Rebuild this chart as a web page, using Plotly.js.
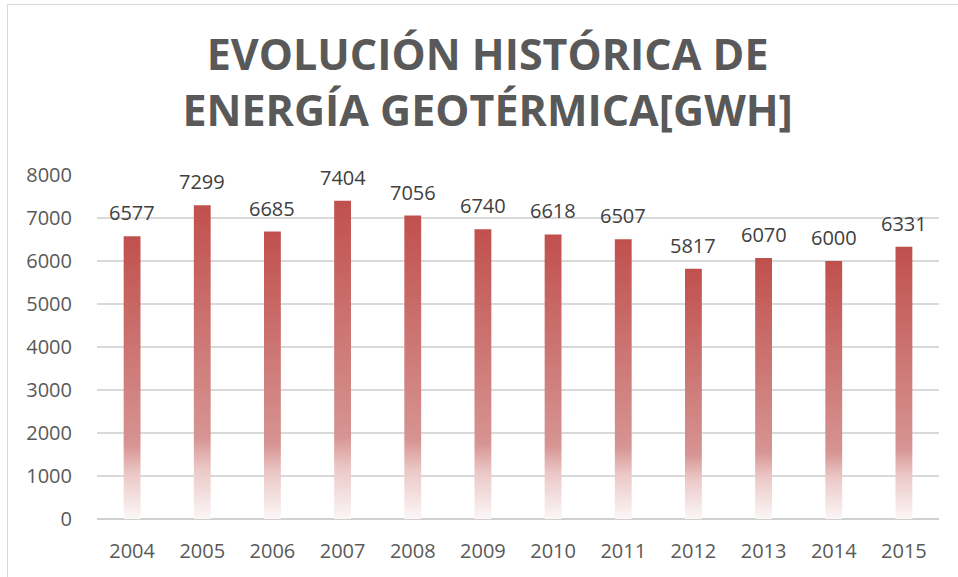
<!DOCTYPE html>
<html>
<head>
<meta charset="utf-8">
<script src="https://cdn.plot.ly/plotly-3.0.1.min.js"></script>
<style>
  html, body { margin: 0; padding: 0; background: #fff; }
  #wrap { position: relative; width: 958px; height: 577px; }
  #chart { width: 958px; height: 577px; }
  #frame { position: absolute; left: 7px; top: 4px; width: 960px; height: 580px;
           border-left: 1.5px solid #D9D9D9; border-top: 1.5px solid #D9D9D9; pointer-events: none; }
</style>
</head>
<body>
<div id="wrap">
  <div id="chart"></div>
  <div id="frame"></div>
</div>
<script>
const years = ["2004","2005","2006","2007","2008","2009","2010","2011","2012","2013","2014","2015"];
const energyGWh = [6577, 7299, 6685, 7404, 7056, 6740, 6618, 6507, 5817, 6070, 6000, 6331];
const yTicks = [0, 1000, 2000, 3000, 4000, 5000, 6000, 7000, 8000];
const titleText = "EVOLUCIÓN HISTÓRICA DE<br>ENERGÍA GEOTÉRMICA[GWH]";

const FONT = "Open Sans, Lato, sans-serif";

const trace = {
  type: "bar",
  x: years,
  y: energyGWh,
  marker: { color: "#C0504D", line: { width: 0 } },
  hoverinfo: "x+y"
};

// on a category axis, annotation x is the category index
const annotations = years.map((yr, i) => ({
  x: i, y: energyGWh[i], xref: "x", yref: "y",
  text: String(energyGWh[i]), showarrow: false,
  yanchor: "bottom", yshift: 8,
  font: { family: FONT, size: 20, color: "#404040" }
}));

const layout = {
  width: 958, height: 577,
  margin: { l: 97, r: 19, t: 175, b: 58 },
  paper_bgcolor: "#ffffff",
  plot_bgcolor: "#ffffff",
  bargap: 0.76,
  showlegend: false,
  title: {
    text: titleText,
    font: { family: FONT, size: 43, color: "#595959", weight: "bold" },
    xref: "container", x: 0.509, xanchor: "center",
    yref: "container", y: 0.878, yanchor: "top"
  },
  xaxis: {
    type: "category",
    range: [-0.5, years.length - 0.5],
    showgrid: false, zeroline: false, showline: false,
    ticks: "outside", ticklen: 14, tickcolor: "rgba(0,0,0,0)",
    tickfont: { family: FONT, size: 20, color: "#595959" }
  },
  yaxis: {
    range: [0, 8000],
    tickvals: yTicks,
    ticktext: yTicks.map(String),
    showgrid: true, gridcolor: "#D9D9D9", gridwidth: 1.3,
    zeroline: true, zerolinecolor: "#D0D0D0", zerolinewidth: 1.6,
    showline: false,
    ticks: "outside", ticklen: 20, tickcolor: "rgba(0,0,0,0)",
    tickfont: { family: FONT, size: 20, color: "#595959" }
  },
  annotations: annotations
};

Plotly.newPlot("chart", [trace], layout, { displayModeBar: false, staticPlot: true }).then(gd => {
  const svg = gd.querySelector(".main-svg");
  const ns = "http://www.w3.org/2000/svg";
  let defs = svg.querySelector("defs");
  if (!defs) { defs = document.createElementNS(ns, "defs"); svg.insertBefore(defs, svg.firstChild); }
  const grad = document.createElementNS(ns, "linearGradient");
  grad.setAttribute("id", "barGrad");
  grad.setAttribute("x1", "0"); grad.setAttribute("y1", "0");
  grad.setAttribute("x2", "0"); grad.setAttribute("y2", "1");
  const stops = [
    [0, "rgb(192,80,77)"],
    [0.74, "rgb(214,148,146)"],
    [0.84, "rgb(235,200,199)"],
    [1, "rgb(251,246,246)"]
  ];
  stops.forEach(([o, c]) => {
    const s = document.createElementNS(ns, "stop");
    s.setAttribute("offset", o);
    s.setAttribute("stop-color", c);
    grad.appendChild(s);
  });
  defs.appendChild(grad);
  gd.querySelectorAll(".bars .point path").forEach(p => {
    p.style.fill = "url(#barGrad)";
    p.style.fillOpacity = 1;
  });
});
</script>
</body>
</html>
